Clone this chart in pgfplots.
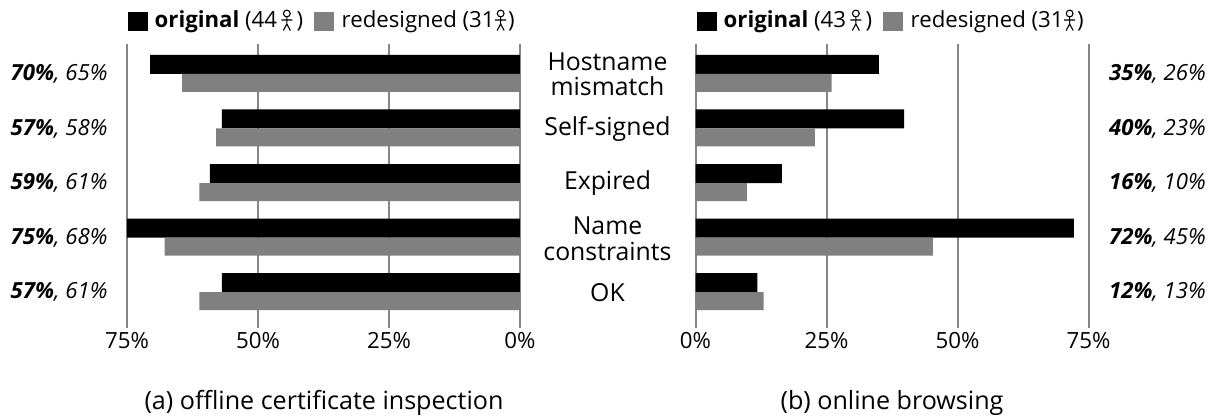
\documentclass[border=0pt]{standalone}
\usepackage{pgfplots}
\pgfplotsset{compat=1.18}
\usepackage{fontspec}
\setmainfont{Open Sans}
\definecolor{barg}{HTML}{808080}
\definecolor{gridg}{HTML}{868686}
\newcommand\fs[1]{\fontsize{#1}{#1}\selectfont}
\newcommand\person{\begin{tikzpicture}[baseline=0pt,line width=1.1pt,x=1pt,y=1pt]
\draw (0,14.5) circle (3.4);
\draw (0,11) -- (0,4) -- (-3.5,-2.5) (0,4) -- (3.5,-2.5) (-5.5,8) -- (5.5,8);
\end{tikzpicture}}
\newcommand\swatch[1]{\textcolor{#1}{\rule[-3.5pt]{19.5pt}{19.5pt}}}
\newcommand\leg[2]{\swatch{black}\hspace{7pt}\textbf{original} (#1\,\person\,)\hspace{11pt}\swatch{barg}\hspace{8pt}redesigned (#2\person\hspace{1.5pt})}
\newcommand\vl[2]{\textbf{\textit{#1\%}}\textit{, #2\%}}
\pgfplotsset{pan/.style={
  scale only axis, width=393pt, height=284pt,
  anchor=south west,
  xmin=0, xmax=75, ymin=-0.55, ymax=4.66, y dir=reverse,
  xtick={0,25,50,75},
  xticklabels={0\%,25\%,50\%,75\%},
  ytick={0,1,2,3,4},
  xmajorgrids, major grid style={gridg,line width=2pt},
  axis line style={draw=none}, major tick length=0pt,
  tick label style={font=\fs{22.3}},
  xticklabel style={yshift=-1pt},
  y tick label style={font=\fs{22.2}},
  clip=false,
}}
\begin{document}
\begin{tikzpicture}[x=1pt,y=1pt]
\path[use as bounding box] (0,0) rectangle (1215,418);
\begin{axis}[pan, at={(127pt,90pt)}, x dir=reverse,
  yticklabels={\vl{70}{65},\vl{57}{58},\vl{59}{61},\vl{75}{68},\vl{57}{61}},
  yticklabel style={xshift=-16pt}]
\addplot[xbar, bar width=19pt, bar shift=9.5pt, fill=black, draw=none] coordinates {(70.6,0) (56.9,1) (59.2,2) (75,3) (56.9,4)};
\addplot[xbar, bar width=18pt, bar shift=-9pt, fill=barg, draw=none] coordinates {(64.5,0) (58,1) (61.2,2) (67.8,3) (61.2,4)};
\end{axis}
\begin{axis}[pan, at={(695.5pt,90pt)}, yticklabel pos=right,
  yticklabels={\vl{35}{26},\vl{40}{23},\vl{16}{10},\vl{72}{45},\vl{12}{13}},
  yticklabel style={xshift=17pt}]
\addplot[xbar, bar width=19pt, bar shift=9.5pt, fill=black, draw=none] coordinates {(35,0) (39.8,1) (16.5,2) (72.2,3) (11.8,4)};
\addplot[xbar, bar width=18pt, bar shift=-9pt, fill=barg, draw=none] coordinates {(26,0) (22.8,1) (9.8,2) (45.3,3) (13,4)};
\end{axis}
\tikzset{cat/.style={align=center,font=\fontsize{24.8}{25.5}\selectfont}}
\node[cat] at (607.5,343.5) {Hostname\\mismatch};
\node[cat] at (607.5,289) {Self-signed};
\node[cat] at (607.5,235) {Expired};
\node[cat] at (607.5,179) {Name\\constraints};
\node[cat] at (607.5,125) {OK};
\node[anchor=base west,inner sep=0pt,font=\fs{22.2}] at (128,390) {\leg{44}{31}};
\node[anchor=base west,inner sep=0pt,font=\fs{22.2}] at (697,390) {\leg{43}{31}};
\node[font=\fs{25.1}] at (324,15) {(a) offline certificate inspection};
\node[font=\fs{25.1}] at (892,15) {(b) online browsing};
\end{tikzpicture}
\end{document}
